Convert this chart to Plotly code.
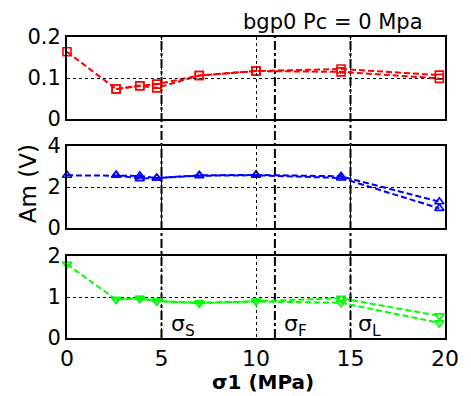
import plotly.graph_objects as go

# ---- data ----
x_a = [0, 2.6, 3.85, 4.75, 7, 10, 14.5, 19.7]
x_b = [2.6, 3.85, 4.75, 7, 10, 14.5, 19.7]

top_a = [0.164, 0.073, 0.081, 0.085, 0.106, 0.117, 0.122, 0.107]
top_b = [0.073, 0.081, 0.076, 0.106, 0.117, 0.115, 0.099]

mid_a = [2.57, 2.57, 2.54, 2.44, 2.57, 2.59, 2.52, 1.28]
mid_b = [2.57, 2.41, 2.44, 2.55, 2.57, 2.44, 0.96]

bot_a = [1.80, 0.94, 0.97, 0.90, 0.85, 0.90, 0.97, 0.54]
bot_b = [0.94, 0.96, 0.90, 0.86, 0.89, 0.86, 0.37]

x_ticks = [0, 5, 10, 15, 20]
top_ticks = [0, 0.1, 0.2]
mid_ticks = [0, 2, 4]
bot_ticks = [0, 1, 2]

stress_lines = [5, 11, 15]
stress_labels = ["σ<sub>S</sub>", "σ<sub>F</sub>", "σ<sub>L</sub>"]
stress_label_x = [5.42, 11.37, 15.3]

title_text = "bgp0 Pc = 0 Mpa"
ylabel_text = "Am (V)"
xlabel_text = "σ1 (MPa)"

FONT = "DejaVu Sans"

# page has an 8px body margin; compensate
BODY = 8
W, H = 471 - BODY, 396 - BODY
ML, MR, MT, MB = 67 - BODY, 24, 37 - BODY, 58
PW, PH = W - ML - MR, H - MT - MB


def px(xp):
    return (xp - BODY - ML) / PW


def py(yp):
    return (BODY + H - MB - yp) / PH


fig = go.Figure()


def add_pair(xa, ya, xb, yb, color, symbol, yaxis):
    for xs, ys in ((xa, ya), (xb, yb)):
        fig.add_trace(go.Scatter(
            x=xs, y=ys, mode="lines+markers", xaxis="x", yaxis=yaxis,
            line=dict(color=color, width=2, dash="6px,3px"),
            marker=dict(symbol=symbol, size=8, color=color,
                        line=dict(color=color, width=1.6)),
            cliponaxis=False, showlegend=False))


add_pair(x_a, top_a, x_b, top_b, "#ff0000", "square-open", "y")
add_pair(x_a, mid_a, x_b, mid_b, "#0000ff", "triangle-up-open", "y2")
add_pair(x_a, bot_a, x_b, bot_b, "#00ff00", "triangle-down-open", "y3")

common_axis = dict(showline=True, linecolor="black", linewidth=2, mirror=True,
                   showgrid=True, gridcolor="black", gridwidth=1, griddash="dot",
                   zeroline=False, ticks="",
                   tickfont=dict(family=FONT, size=21, color="black"))

fig.update_layout(
    width=W, height=H,
    margin=dict(l=ML, r=MR, t=MT, b=MB, pad=0),
    paper_bgcolor="white", plot_bgcolor="rgba(0,0,0,0)",
    xaxis=dict(range=[0, 20], tickvals=x_ticks, anchor="y3",
               **{**common_axis, "tickfont": dict(family=FONT, size=22, color="black")}),
    xaxis2=dict(range=[0, 20], tickvals=x_ticks, anchor="y", matches="x",
                showticklabels=False, **common_axis),
    xaxis3=dict(range=[0, 20], tickvals=x_ticks, anchor="y2", matches="x",
                showticklabels=False, **common_axis),
    yaxis=dict(domain=[0.7276, 1], range=[0, 0.2], tickvals=top_ticks,
               ticktext=["0", "0.1", "0.2"], anchor="x", **common_axis),
    yaxis2=dict(domain=[0.3654, 0.6379], range=[0, 4], tickvals=mid_ticks,
                anchor="x", **common_axis),
    yaxis3=dict(domain=[0, 0.2724], range=[0, 2], tickvals=bot_ticks,
                anchor="x", **common_axis),
)

fig.add_trace(go.Scatter(x=[None], y=[None], xaxis="x2", yaxis="y", showlegend=False))
fig.add_trace(go.Scatter(x=[None], y=[None], xaxis="x3", yaxis="y2", showlegend=False))

for xv in stress_lines:
    fig.add_shape(type="line", xref="x", yref="paper", x0=xv, x1=xv, y0=0, y1=1,
                  line=dict(color="black", width=2, dash="dashdot"), layer="below")

for lbl, lx in zip(stress_labels, stress_label_x):
    fig.add_annotation(text=lbl, x=lx, y=0.3, xref="x", yref="y3", xanchor="left",
                       yanchor="middle", showarrow=False,
                       font=dict(family=FONT, size=22, color="black"))

fig.add_annotation(text=title_text, x=px(334), y=py(22), xref="paper", yref="paper",
                   xanchor="center", yanchor="middle",
                   showarrow=False, font=dict(family=FONT, size=21, color="black"))
fig.add_annotation(text=ylabel_text, textangle=-90, x=px(28), y=py(184),
                   xref="paper", yref="paper", xanchor="center", yanchor="middle",
                   showarrow=False,
                   font=dict(family=FONT, size=23, color="black"))
fig.add_annotation(text=xlabel_text, x=px(264), y=py(382), xref="paper", yref="paper",
                   xanchor="center", yanchor="middle", showarrow=False,
                   font=dict(family=FONT, size=20, color="black", weight="bold"))

fig.write_html("out.html")
